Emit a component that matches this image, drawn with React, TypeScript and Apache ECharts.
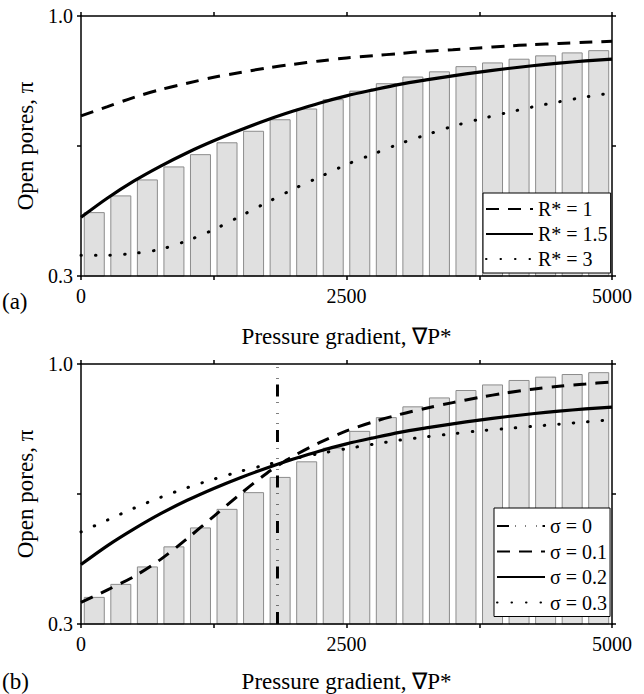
import React, { useEffect, useRef } from "react";
import * as echarts from "echarts";

// x positions of curve samples (pressure gradient)
const PRESSURE = [0, 250, 500, 750, 1000, 1250, 1500, 1750, 2000, 2250, 2500, 2750, 3000, 3250, 3500, 3750, 4000, 4250, 4500, 4750, 5000];
// bar categories (centres of the 20 bins)
const BAR_CENTERS = ["125", "375", "625", "875", "1125", "1375", "1625", "1875", "2125", "2375", "2625", "2875", "3125", "3375", "3625", "3875", "4125", "4375", "4625", "4875"];

// panel (a)
const BARS_A = [0.472, 0.517, 0.560, 0.595, 0.628, 0.660, 0.691, 0.722, 0.751, 0.776, 0.799, 0.819, 0.837, 0.851, 0.865, 0.875, 0.885, 0.894, 0.902, 0.908];
const R_1 = [0.731, 0.756, 0.781, 0.802, 0.819, 0.835, 0.848, 0.860, 0.870, 0.879, 0.887, 0.893, 0.899, 0.905, 0.909, 0.914, 0.919, 0.923, 0.926, 0.929, 0.932];
const R_15 = [0.458, 0.510, 0.556, 0.596, 0.632, 0.664, 0.693, 0.720, 0.744, 0.766, 0.785, 0.801, 0.816, 0.828, 0.839, 0.849, 0.858, 0.866, 0.873, 0.879, 0.884];
const R_3 = [0.356, 0.356, 0.361, 0.372, 0.395, 0.425, 0.461, 0.498, 0.534, 0.567, 0.600, 0.628, 0.656, 0.680, 0.703, 0.722, 0.739, 0.755, 0.769, 0.782, 0.793];

// panel (b)
const BARS_B = [0.373, 0.408, 0.455, 0.509, 0.560, 0.610, 0.655, 0.696, 0.738, 0.775, 0.820, 0.857, 0.886, 0.910, 0.930, 0.945, 0.957, 0.966, 0.973, 0.978];
const SIGMA_0_X = [1850, 1850];
const SIGMA_0_Y = [0.3, 1.0];
const SIGMA_01 = [0.358, 0.392, 0.428, 0.474, 0.530, 0.590, 0.650, 0.706, 0.752, 0.789, 0.820, 0.844, 0.864, 0.881, 0.896, 0.910, 0.922, 0.932, 0.940, 0.946, 0.952];
const SIGMA_02 = [0.460, 0.511, 0.556, 0.597, 0.633, 0.665, 0.694, 0.720, 0.744, 0.766, 0.785, 0.801, 0.816, 0.828, 0.839, 0.849, 0.858, 0.866, 0.873, 0.879, 0.884];
const SIGMA_03 = [0.548, 0.580, 0.612, 0.641, 0.667, 0.690, 0.711, 0.729, 0.745, 0.759, 0.772, 0.784, 0.795, 0.804, 0.812, 0.820, 0.826, 0.832, 0.838, 0.844, 0.850];

// axis ticks / labels
const X_MIN = 0;
const X_MAX = 5000;
const X_TICK_STEP = 1250;
const X_TICK_LABELS = ["0", "2500", "5000"];
const Y_MIN = 0.3;
const Y_MAX = 1.0;
const Y_TICK_STEP = 0.35;
const Y_TICK_LABELS = ["0.3", "1.0"];

const LEGEND_A = ["R* = 1", "R* = 1.5", "R* = 3"];
const LEGEND_B = ["σ = 0", "σ = 0.1", "σ = 0.2", "σ = 0.3"];

const FONT = "Liberation Serif";

const pairs = (xs: number[], ys: number[]) => xs.map((x, i) => [x, ys[i]]);

const DASHED = { color: "#000", width: 3, type: [13, 9] as number[] };
const SOLID = { color: "#000", width: 3.2, type: "solid" as const };
const DOTTED = { color: "#000", width: 3, type: [0.5, 14] as number[], cap: "round" as const };
const DASHDOT = { color: "#000", width: 3, type: [12, 6, 0.5, 10, 0.5, 10, 0.5, 6] as number[], cap: "butt" as const };

function xLabel(v: number) {
  const s = String(Math.round(v));
  return X_TICK_LABELS.includes(s) ? s : "";
}
function yLabel(v: number) {
  for (const l of Y_TICK_LABELS) {
    if (Math.abs(parseFloat(l) - v) < 1e-6) return l;
  }
  return "";
}

const axisLine = { show: true, onZero: false, lineStyle: { color: "#000", width: 1.5 } };
const tick = { show: true, inside: false, length: 4, lineStyle: { color: "#000", width: 1.5 } };

function valueX(grid: number, pos: "top" | "bottom") {
  return {
    type: "value",
    gridIndex: grid,
    position: pos,
    min: X_MIN,
    max: X_MAX,
    interval: X_TICK_STEP,
    z: 10,
    axisLine,
    axisTick: tick,
    splitLine: { show: false },
    axisLabel: pos === "bottom"
      ? { show: true, margin: 10, fontSize: 20, fontFamily: FONT, color: "#000", formatter: xLabel }
      : { show: false },
  };
}
function valueY(grid: number, pos: "left" | "right") {
  return {
    type: "value",
    gridIndex: grid,
    position: pos,
    min: Y_MIN,
    max: Y_MAX,
    interval: Y_TICK_STEP,
    z: 10,
    axisLine,
    axisTick: tick,
    splitLine: { show: false },
    name: pos === "left" ? "Open pores, π" : "",
    nameLocation: "middle",
    nameGap: 40,
    nameTextStyle: { fontSize: 23, fontFamily: FONT, color: "#000" },
    axisLabel: pos === "left"
      ? { show: true, margin: 8, fontSize: 20, fontFamily: FONT, color: "#000", formatter: yLabel }
      : { show: false },
  };
}
function catX(grid: number) {
  return { type: "category", gridIndex: grid, data: BAR_CENTERS, show: false, boundaryGap: true };
}

function barSeries(name: string, xi: number, yi: number, data: number[]) {
  return {
    type: "bar",
    name,
    xAxisIndex: xi,
    yAxisIndex: yi,
    data,
    barWidth: 21,
    clip: true,
    z: 1,
    itemStyle: { color: "#e0e0e0", borderColor: "#8c8c8c", borderWidth: 1 },
    silent: true,
  };
}
function lineSeries(name: string, xi: number, yi: number, xs: number[], ys: number[], ls: any, smooth = 0.3) {
  return {
    type: "line",
    name,
    xAxisIndex: xi,
    yAxisIndex: yi,
    data: pairs(xs, ys),
    symbol: "none",
    showSymbol: false,
    smooth,
    clip: true,
    z: 3,
    lineStyle: ls,
    itemStyle: { color: "#000" },
  };
}

function legendOpt(data: string[], left: number, top: number, itemWidth: number, pad: number[], gap: number) {
  return {
    data,
    orient: "vertical",
    left,
    top,
    itemWidth,
    itemHeight: 14,
    itemGap: gap,
    padding: pad,
    backgroundColor: "#fff",
    borderColor: "#000",
    borderWidth: 1,
    selectedMode: false,
    z: 6,
    itemStyle: { opacity: 0 },
    textStyle: { fontSize: 20, fontFamily: FONT, color: "#000", lineHeight: 20 },
  };
}

const textStyle = (text: string, align: string) => ({
  text,
  fontSize: 23,
  fontFamily: FONT,
  fill: "#000",
  align,
  verticalAlign: "middle",
});

export default function App() {
  const ref = useRef<HTMLDivElement>(null);
  useEffect(() => {
    if (!ref.current) return;
    const chart = echarts.init(ref.current, undefined, { renderer: "svg" });
    chart.setOption({
      animation: false,
      backgroundColor: "#fff",
      textStyle: { fontFamily: FONT },
      grid: [
        { left: 81, top: 16, width: 531, height: 260, containLabel: false },
        { left: 81, top: 364, width: 531, height: 260, containLabel: false },
      ],
      xAxis: [valueX(0, "bottom"), valueX(0, "top"), catX(0), valueX(1, "bottom"), valueX(1, "top"), catX(1)],
      yAxis: [valueY(0, "left"), valueY(0, "right"), valueY(1, "left"), valueY(1, "right")],
      legend: [
        legendOpt(LEGEND_A, 483, 193, 47, [6, 3, 4, 2], 5),
        legendOpt(LEGEND_B, 494, 508, 48, [8, 3, 4, 2], 5.5),
      ],
      series: [
        barSeries("bars a", 2, 0, BARS_A),
        lineSeries(LEGEND_A[0], 0, 0, PRESSURE, R_1, DASHED),
        lineSeries(LEGEND_A[1], 0, 0, PRESSURE, R_15, SOLID),
        lineSeries(LEGEND_A[2], 0, 0, PRESSURE, R_3, DOTTED),
        barSeries("bars b", 5, 2, BARS_B),
        lineSeries(LEGEND_B[0], 3, 2, SIGMA_0_X, SIGMA_0_Y, DASHDOT, 0),
        lineSeries(LEGEND_B[1], 3, 2, PRESSURE, SIGMA_01, DASHED),
        lineSeries(LEGEND_B[2], 3, 2, PRESSURE, SIGMA_02, SOLID),
        lineSeries(LEGEND_B[3], 3, 2, PRESSURE, SIGMA_03, DOTTED),
      ],
      graphic: [
        { type: "text", x: 346.5, y: 336, z: 10, style: textStyle("Pressure gradient, ∇P*", "center") },
        { type: "text", x: 2, y: 301, z: 10, style: textStyle("(a)", "left") },
        { type: "text", x: 346.5, y: 681, z: 10, style: textStyle("Pressure gradient, ∇P*", "center") },
        { type: "text", x: 2, y: 681, z: 10, style: textStyle("(b)", "left") },
      ],
    });
    return () => chart.dispose();
  }, []);
  return <div ref={ref} style={{ position: "fixed", left: 0, top: 0, width: 644, height: 694 }} />;
}
